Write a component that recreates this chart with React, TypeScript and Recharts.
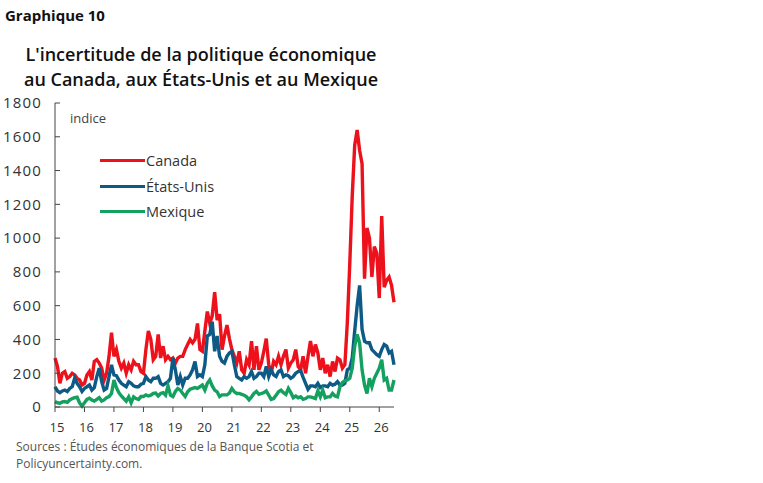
import { LineChart, Line, XAxis, YAxis, Legend } from "recharts";

// Indice mensuel, janvier 2015 à juillet 2026
const yearLabels = ["15", "16", "17", "18", "19", "20", "21", "22", "23", "24", "25", "26"];
const yTicks = [0, 200, 400, 600, 800, 1000, 1200, 1400, 1600, 1800];
const seriesOrder = ["Canada", "États-Unis", "Mexique"];

const canada = [
  290, 240, 140, 200, 210, 170, 180, 200, 190, 170, 160, 130,
  140, 190, 210, 160, 270, 280, 260, 230, 160, 200, 300, 440,
  300, 340, 270, 230, 260, 200, 250, 220, 270, 250, 250, 210,
  200, 340, 450, 400, 280, 300, 430, 290, 360, 280, 300, 280,
  290, 260, 290, 300, 300, 340, 370, 400, 380, 400, 495, 340,
  330, 450, 565, 495, 540, 680, 515, 550, 340, 420, 485, 405,
  340, 300, 260, 330, 220, 200, 280, 250, 390, 220, 360, 220,
  260, 330, 405, 250, 200, 270, 250, 300, 250, 300, 340, 230,
  260, 280, 340, 240, 220, 300, 200, 300, 390, 300, 370, 320,
  220, 290, 200, 250, 180, 270, 210, 290, 280, 230, 250, 500,
  850, 1250, 1550, 1640, 1520, 1440, 760, 1060, 1000, 770, 950, 910,
  645, 1130, 710, 750, 770, 720, 620,
];

const etatsUnis = [
  120, 95, 85, 95, 100, 92, 110, 120, 170, 140, 120, 92,
  110, 120, 130, 100, 115, 180, 230, 150, 100, 110, 180, 250,
  190, 185, 160, 140, 130, 120, 150, 140, 125, 120, 120, 135,
  140, 180, 160, 150, 170, 170, 180, 140, 130, 140, 150, 170,
  290, 220, 130, 180, 130, 170, 170, 190, 220, 270, 180, 190,
  180, 250, 420, 430, 505, 330, 420, 300, 270, 260, 300, 320,
  330, 250, 180, 170, 160, 180, 170, 180, 210, 170, 180, 200,
  200, 180, 240, 180, 220, 190, 180, 210, 220, 180, 190, 185,
  170, 180, 200, 210, 215, 175, 140, 105, 125, 125, 120, 140,
  115, 125, 125, 120, 140, 130, 135, 150, 130, 130, 140, 220,
  230, 290, 450, 600, 720, 460, 390, 380, 380, 340, 325, 310,
  300, 340, 370, 360, 320, 330, 250,
];

const mexique = [
  32, 25, 22, 30, 32, 28, 42, 50, 55, 58, 25, 5,
  25, 45, 52, 42, 35, 45, 55, 35, 42, 55, 62, 80,
  160, 115, 85, 65, 50, 35, 60, 25, 60, 50, 45, 62,
  62, 72, 65, 70, 80, 82, 65, 80, 85, 70, 125, 70,
  62, 92, 110, 100, 80, 62, 90, 105, 110, 115, 110, 120,
  130, 100, 140, 160, 125, 100, 90, 62, 72, 72, 72, 82,
  110, 90, 80, 80, 75, 70, 60, 42, 60, 80, 92, 75,
  80, 85, 95, 70, 45, 50, 70, 90, 100, 85, 75, 110,
  85, 55, 65, 55, 61, 45, 50, 60, 60, 55, 50, 95,
  60, 100, 55, 60, 60, 80, 65, 60, 120, 145, 155, 160,
  170, 230, 360, 430, 380, 220, 130, 80, 170, 120, 170, 200,
  230, 280, 160, 170, 100, 100, 160,
];

const data = canada.map((v, i) => ({
  t: i,
  canada: v,
  etatsUnis: etatsUnis[i],
  mexique: mexique[i],
}));

const xTicks = yearLabels.map((_, i) => i * 12);

const FONT = "'Open Sans', sans-serif";
const TEXT = "#333";

const LegendContent = ({ payload }: any) => {
  const items = [...(payload || [])].sort(
    (a: any, b: any) => seriesOrder.indexOf(a.value) - seriesOrder.indexOf(b.value)
  );
  return (
    <div>
      {items.map((entry: any) => (
        <div key={entry.value} style={{ display: "flex", alignItems: "center", height: 25.5 }}>
          <span style={{ display: "inline-block", width: 45, height: 3, background: entry.color }} />
          <span style={{ marginLeft: 1, fontSize: 14.5, color: TEXT, fontFamily: FONT }}>{entry.value}</span>
        </div>
      ))}
    </div>
  );
};

export default function App() {
  return (
    <div
      style={{
        position: "absolute",
        left: 0,
        top: 0,
        width: 763,
        height: 483,
        background: "#fff",
        fontFamily: FONT,
        color: TEXT,
      }}
    >
      <div style={{ position: "absolute", left: 5, top: 5, fontSize: 15, fontWeight: 700, lineHeight: "20px", color: "#111" }}>
        Graphique 10
      </div>
      <div
        style={{
          position: "absolute",
          left: 0,
          top: 42,
          width: 402,
          textAlign: "center",
          fontSize: 18,
          fontWeight: 600,
          lineHeight: "24.5px",
          color: "#111",
        }}
      >
        L'incertitude de la politique économique
        <br />
        au Canada, aux États-Unis et au Mexique
      </div>
      <div style={{ position: "absolute", left: 70, top: 110, fontSize: 13, lineHeight: "16px", color: "#444" }}>
        indice
      </div>

      <LineChart
        width={400}
        height={440}
        data={data}
        margin={{ top: 103, right: 6, left: 10, bottom: 3 }}
        style={{ position: "absolute", left: 0, top: 0 }}
      >
        <XAxis
          dataKey="t"
          type="number"
          domain={[0, 138]}
          ticks={xTicks}
          tickFormatter={(v: number) => yearLabels[v / 12]}
          height={30}
          tickSize={5}
          tickMargin={11}
          interval={0}
          axisLine={{ stroke: "#444" }}
          tickLine={{ stroke: "#444" }}
          tick={{ fontSize: 13, fill: TEXT, fontFamily: FONT, dx: 2 }}
        />
        <YAxis
          type="number"
          domain={[0, 1800]}
          ticks={yTicks}
          width={45}
          tickSize={-5}
          tickMargin={18}
          interval={0}
          axisLine={{ stroke: "#444" }}
          tickLine={{ stroke: "#444" }}
          tick={{ fontSize: 15, fill: TEXT, fontFamily: FONT, letterSpacing: 1.2 }}
        />
        <Legend
          layout="vertical"
          align="center"
          verticalAlign="middle"
          itemSorter={null}
          content={<LegendContent />}
          wrapperStyle={{ left: 100, top: 148, width: "auto" }}
        />
        <Line
          dataKey="canada"
          name="Canada"
          type="linear"
          stroke="#EC111A"
          strokeWidth={3.4}
          dot={false}
          isAnimationActive={false}
        />
        <Line
          dataKey="etatsUnis"
          name="États-Unis"
          type="linear"
          stroke="#0E5A87"
          strokeWidth={3.4}
          dot={false}
          isAnimationActive={false}
        />
        <Line
          dataKey="mexique"
          name="Mexique"
          type="linear"
          stroke="#14A160"
          strokeWidth={3.4}
          dot={false}
          isAnimationActive={false}
        />
      </LineChart>

      <div style={{ position: "absolute", left: 16, top: 439, fontSize: 12, lineHeight: "16.5px", color: "#555" }}>
        Sources : Études économiques de la Banque Scotia et
        <br />
        Policyuncertainty.com.
      </div>
    </div>
  );
}
